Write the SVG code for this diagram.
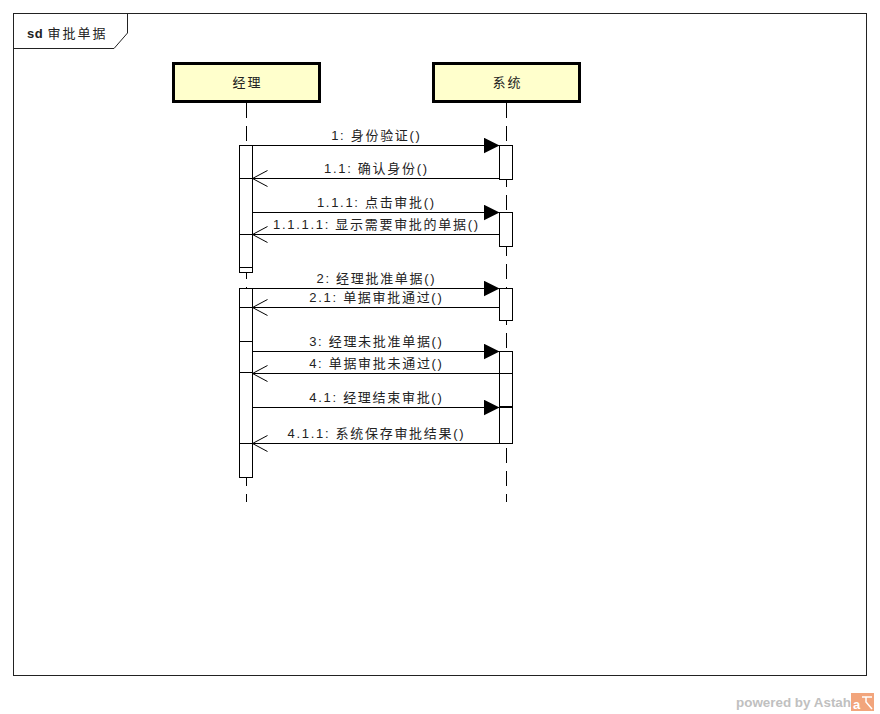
<svg xmlns="http://www.w3.org/2000/svg" width="880" height="714" viewBox="0 0 880 714">
  <style>
    .lbl { font-family: "Liberation Sans", "Noto Sans CJK SC", sans-serif; font-size: 13px; letter-spacing: 1.7px; fill: #222; }
    .mid { text-anchor: middle; }
    .head { fill: #ffffcc; stroke: #000; stroke-width: 3; }
    .life { stroke: #000; stroke-width: 1; stroke-dasharray: 15 8; fill: none; }
    .act { fill: #fff; stroke: #000; stroke-width: 1; }
    .msg { stroke: #000; stroke-width: 1; fill: none; }
  </style>
  <defs>
    <!-- synchronous call: solid triangle -->
    <marker id="filled" markerWidth="16" markerHeight="16" viewBox="0 0 16 16" refX="16" refY="8" orient="auto" markerUnits="userSpaceOnUse">
      <path d="M0,0 L16,8 L0,16 Z" fill="#000"/>
    </marker>
    <!-- reply: open chevron -->
    <marker id="open" markerWidth="17" markerHeight="18" viewBox="0 0 17 18" refX="16" refY="9" orient="auto" markerUnits="userSpaceOnUse">
      <path d="M1,1 L16,9 L1,17" fill="none" stroke="#000" stroke-width="1"/>
    </marker>
  </defs>

  <rect width="880" height="714" fill="#fff"/>

  <!-- frame -->
  <g id="frame">
    <rect x="13.5" y="13.5" width="853" height="662" fill="none" stroke="#222" stroke-width="1"/>
    <path d="M13.5,48.5 L114,48.5 L127.5,33 L127.5,13.5" fill="none" stroke="#222" stroke-width="1"/>
    <text x="27" y="38" class="lbl" style="letter-spacing:0.6px"><tspan font-weight="bold">sd</tspan> <tspan style="letter-spacing:2px">审批单据</tspan></text>
  </g>

  <!-- lifeline: 经理 -->
  <g id="manager">
    <line class="life" x1="246.5" y1="103" x2="246.5" y2="502"/>
    <rect class="head" x="173.5" y="63.5" width="146" height="38"/>
    <text x="247.5" y="87" class="lbl mid" style="letter-spacing:2px">经理</text>
    <rect class="act" x="239.5" y="145.5" width="13" height="33"/>
    <rect class="act" x="239.5" y="178.5" width="13" height="56"/>
    <rect class="act" x="239.5" y="234.5" width="13" height="33"/>
    <rect class="act" x="239.5" y="267.5" width="13" height="5"/>
    <rect class="act" x="239.5" y="288.5" width="13" height="19"/>
    <rect class="act" x="239.5" y="307.5" width="13" height="34"/>
    <rect class="act" x="239.5" y="341.5" width="13" height="31"/>
    <rect class="act" x="239.5" y="372.5" width="13" height="71"/>
    <rect class="act" x="239.5" y="443.5" width="13" height="34"/>
  </g>

  <!-- lifeline: 系统 -->
  <g id="system">
    <line class="life" x1="506.5" y1="103" x2="506.5" y2="502"/>
    <rect class="head" x="433.5" y="63.5" width="146" height="38"/>
    <text x="507.5" y="87" class="lbl mid" style="letter-spacing:2px">系统</text>
    <rect class="act" x="499.5" y="145.5" width="13" height="34"/>
    <rect class="act" x="499.5" y="212.5" width="13" height="34"/>
    <rect class="act" x="499.5" y="288.5" width="13" height="32"/>
    <rect class="act" x="499.5" y="351.5" width="13" height="92"/>
    <line x1="499.5" y1="373.5" x2="512.5" y2="373.5" stroke="#000" stroke-width="1"/>
    <line x1="499.5" y1="407" x2="513" y2="407" stroke="#000" stroke-width="2"/>
  </g>

  <!-- messages -->
  <g id="connectors">
    <line class="msg" x1="252.5" y1="145.5" x2="499.5" y2="145.5" marker-end="url(#filled)"/>
    <line class="msg" x1="499.5" y1="178.5" x2="252.5" y2="178.5" marker-end="url(#open)"/>
    <line class="msg" x1="252.5" y1="212.5" x2="499.5" y2="212.5" marker-end="url(#filled)"/>
    <line class="msg" x1="499.5" y1="234.5" x2="252.5" y2="234.5" marker-end="url(#open)"/>
    <line class="msg" x1="252.5" y1="288.5" x2="499.5" y2="288.5" marker-end="url(#filled)"/>
    <line class="msg" x1="499.5" y1="307.5" x2="252.5" y2="307.5" marker-end="url(#open)"/>
    <line class="msg" x1="252.5" y1="351.5" x2="499.5" y2="351.5" marker-end="url(#filled)"/>
    <line class="msg" x1="499.5" y1="373.5" x2="252.5" y2="373.5" marker-end="url(#open)"/>
    <line class="msg" x1="252.5" y1="407.5" x2="499.5" y2="407.5" marker-end="url(#filled)"/>
    <line class="msg" x1="499.5" y1="443.5" x2="252.5" y2="443.5" marker-end="url(#open)"/>

    <text class="lbl mid" x="376.4" y="140">1: 身份验证()</text>
    <text class="lbl mid" x="376.4" y="173">1.1: 确认身份()</text>
    <text class="lbl mid" x="376.4" y="207">1.1.1: 点击审批()</text>
    <text class="lbl mid" x="376.4" y="229">1.1.1.1: 显示需要审批的单据()</text>
    <text class="lbl mid" x="376.4" y="283">2: 经理批准单据()</text>
    <text class="lbl mid" x="376.4" y="302">2.1: 单据审批通过()</text>
    <text class="lbl mid" x="376.4" y="346">3: 经理未批准单据()</text>
    <text class="lbl mid" x="376.4" y="368">4: 单据审批未通过()</text>
    <text class="lbl mid" x="376.4" y="402">4.1: 经理结束审批()</text>
    <text class="lbl mid" x="376.4" y="438">4.1.1: 系统保存审批结果()</text>
  </g>

  <!-- watermark -->
  <g id="watermark">
    <text x="736" y="707" font-family="Liberation Sans, sans-serif" font-size="13" font-weight="bold" fill="#c0c0c0" textLength="115" lengthAdjust="spacingAndGlyphs">powered by Astah</text>
    <rect x="851" y="693" width="23" height="18" fill="#f2a57c"/>
    <text x="853" y="709" font-family="Liberation Sans, sans-serif" font-size="13" font-weight="bold" fill="#fff">a</text>
    <path d="M862,697 L872,697 M866,697 L866,702 L872,709" stroke="#fff" stroke-width="1.5" fill="none"/>
  </g>
</svg>
